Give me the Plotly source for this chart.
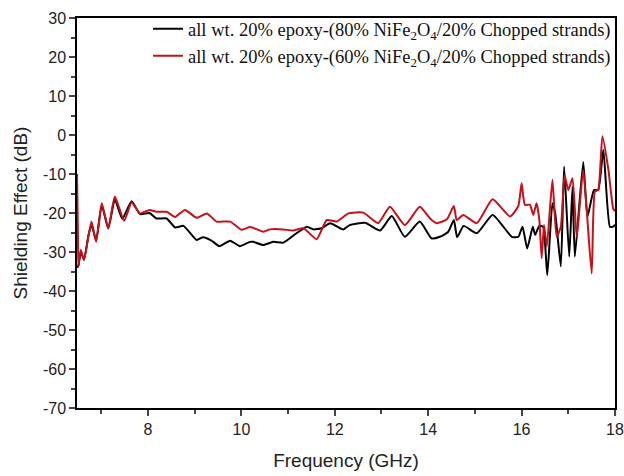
import plotly.graph_objects as go

freq_80 = [6.48, 6.51, 6.56, 6.63, 6.72, 6.79, 6.89, 7.01, 7.15, 7.29, 7.45, 7.65, 7.83, 8.03, 8.18, 8.40,
           8.58, 8.76, 9.04, 9.18, 9.35, 9.53, 9.76, 9.97, 10.18, 10.25, 10.47, 10.68, 10.90, 11.18,
           11.40, 11.54, 11.72, 11.90, 12.18, 12.32, 12.65, 12.97, 13.22, 13.50, 13.82, 14.07, 14.25,
           14.43, 14.55, 14.62, 14.76, 15.04, 15.38, 15.79, 15.93, 16.02, 16.12, 16.24, 16.29, 16.38,
           16.46, 16.55, 16.66, 16.72, 16.84, 16.91, 17.02, 17.09, 17.14, 17.32, 17.41, 17.55, 17.64,
           17.75, 17.89, 17.96, 18.0]
se_80 = [-34.0, -33.5, -30.0, -32.0, -26.0, -23.0, -27.0, -18.0, -24.0, -16.5, -21.5, -17.0, -20.3, -20.0, -21.4, -21.4,
         -23.7, -23.3, -26.9, -26.2, -27.0, -28.5, -27.1, -28.5, -27.4, -27.4, -28.2, -27.4, -27.6, -25.2,
         -23.5, -24.2, -23.9, -22.6, -24.2, -23.1, -22.5, -24.5, -20.8, -26.1, -22.2, -26.5, -26.1,
         -24.8, -21.8, -26.2, -23.3, -25.2, -20.5, -26.1, -26.1, -23.5, -29.1, -23.5, -25.6, -23.3,
         -23.5, -35.9, -17.5, -20.1, -33.7, -8.1, -31.2, -13.3, -31.2, -6.9, -21.0, -14.1, -14.1,
         -3.8, -23.5, -23.5, -23.0]

freq_60 = [6.48, 6.50, 6.51, 6.56, 6.63, 6.79, 6.89, 7.01, 7.15, 7.29, 7.49, 7.65, 7.83, 8.03, 8.18, 8.40,
           8.58, 8.79, 9.04, 9.26, 9.47, 9.76, 10.0, 10.19, 10.47, 10.61, 10.90, 11.11, 11.33, 11.61,
           11.83, 12.04, 12.29, 12.61, 12.93, 13.18, 13.50, 13.82, 14.04, 14.18, 14.40, 14.55, 14.61,
           14.75, 15.04, 15.38, 15.75, 15.93, 16.00, 16.07, 16.18, 16.25, 16.32, 16.38, 16.43, 16.48,
           16.54, 16.66, 16.75, 16.84, 16.92, 17.00, 17.09, 17.18, 17.32, 17.50, 17.57, 17.64, 17.73,
           17.86, 17.96, 18.0]
se_60 = [-10.0, -25.0, -33.5, -29.5, -32.0, -22.2, -27.4, -17.5, -23.9, -15.8, -22.0, -17.3, -20.1, -19.2, -19.7, -19.7,
         -21.0, -19.2, -21.2, -20.1, -22.2, -22.2, -24.3, -23.6, -24.8, -24.2, -24.2, -24.5, -23.9, -26.7,
         -21.8, -22.2, -20.1, -19.9, -22.6, -18.4, -23.1, -18.4, -21.4, -22.6, -21.6, -18.2, -21.8,
         -20.5, -22.6, -16.5, -20.9, -18.2, -12.4, -17.9, -17.9, -20.5, -17.5, -21.8, -31.6, -23.1,
         -28.6, -11.5, -26.1, -23.5, -10.3, -14.1, -11.1, -26.1, -9.0, -35.5, -14.5, -14.1, -0.3,
         -9.0, -18.8, -19.5]

y_tickvals = [30, 20, 10, 0, -10, -20, -30, -40, -50, -60, -70]
y_ticktext = ["30", "20", "10", "0", "-10", "-20", "-30", "-40", "-50", "-60", "-70"]

label_80 = "all wt. 20% epoxy-(80% NiFe<sub>2</sub>O<sub>4</sub>/20% Chopped strands)"
label_60 = "all wt. 20% epoxy-(60% NiFe<sub>2</sub>O<sub>4</sub>/20% Chopped strands)"

fig = go.Figure()
fig.add_trace(go.Scatter(x=freq_80, y=se_80, mode="lines", name=label_80,
                         line=dict(color="#000000", width=2, shape="spline", smoothing=0.5)))
fig.add_trace(go.Scatter(x=freq_60, y=se_60, mode="lines", name=label_60,
                         line=dict(color="#c8101a", width=2, shape="spline", smoothing=0.5)))

axis_font = dict(family="Arial, Liberation Sans, sans-serif", size=16, color="#222")
title_font = dict(family="Arial, Liberation Sans, sans-serif", size=19, color="#222")
fig.update_layout(
    width=624, height=476,
    margin=dict(l=77, r=9, t=18, b=68, autoexpand=False),
    paper_bgcolor="white", plot_bgcolor="white",
    font=dict(family="Arial, Liberation Sans, sans-serif", color="#222"),
    legend=dict(x=0.132, y=1.02, xanchor="left", yanchor="top",
                font=dict(family="Times New Roman, Liberation Serif, serif", size=18.5, color="#111"),
                bgcolor="rgba(0,0,0,0)", borderwidth=0, tracegroupgap=0, itemwidth=30),
    xaxis=dict(range=[6.48, 18], tick0=0, dtick=2, ticks="outside", ticklen=6, tickwidth=1.5,
               automargin=False,
               showline=True, linecolor="black", linewidth=1.5, mirror=True, showgrid=False,
               zeroline=False, tickfont=axis_font,
               minor=dict(tick0=0, dtick=1, ticks="outside", ticklen=4, tickwidth=1.5, showgrid=False),
               title=dict(text="Frequency (GHz)", font=title_font, standoff=17)),
    yaxis=dict(range=[-70, 30], tickmode="array", tickvals=y_tickvals, ticktext=y_ticktext,
               automargin=False,
               ticks="outside", ticklen=6, tickwidth=1.5,
               showline=True, linecolor="black", linewidth=1.5, mirror=True, showgrid=False,
               zeroline=False, tickfont=axis_font,
               minor=dict(tick0=0, dtick=5, ticks="outside", ticklen=4, tickwidth=1.5, showgrid=False),
               title=dict(text="Shielding Effect (dB)", font=title_font, standoff=10)),
)

fig.write_html("out.html", config={"displayModeBar": False},
               post_script="document.body.style.margin='0';document.body.style.overflow='hidden';")
